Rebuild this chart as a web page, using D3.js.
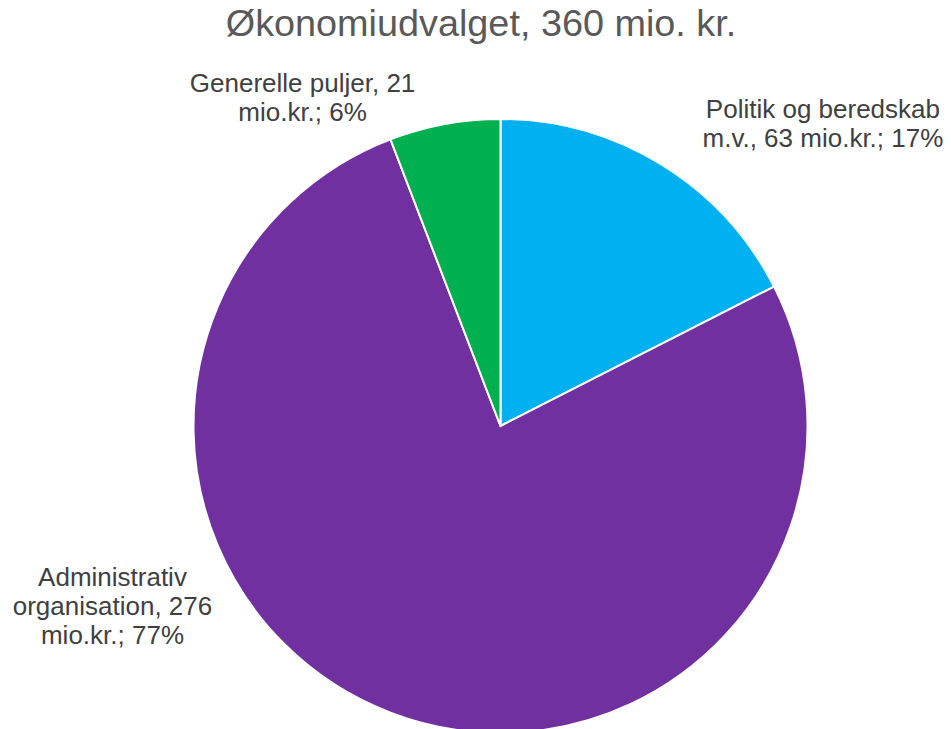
<!DOCTYPE html>
<html>
<head>
<meta charset="utf-8">
<script src="https://cdn.jsdelivr.net/npm/d3@7"></script>
<style>
  body { margin: 0; background: #fff; }
  svg { display: block; font-family: "Liberation Sans", Arial, sans-serif; }
</style>
</head>
<body>
<div id="chart"></div>
<script>
'use strict';

const categories = ['Politik og beredskab m.v.', 'Administrativ organisation', 'Generelle puljer'];
const values = [63, 276, 21];
const percents = [17, 77, 6];
const labelLines = [
    ['Politik og beredskab', 'm.v., 63 mio.kr.; 17%'],
    ['Administrativ', 'organisation, 276', 'mio.kr.; 77%'],
    ['Generelle puljer, 21', 'mio.kr.; 6%']
];
const colors = ['#00B0F0', '#7030A0', '#00B050'];
const titleText = 'Økonomiudvalget, 360 mio. kr.';

// label nudges relative to the slice's mid point on the rim
const labelOffsets = [[162, -46], [-278, -127], [-142, -32]];

const width = 951, height = 729;
const cx = 500.5, cy = 426, radius = 307;

const svg = d3.select('#chart')
    .append('svg')
    .attr('width', width)
    .attr('height', height);

svg.append('text')
    .attr('x', 481)
    .attr('y', 36)
    .attr('text-anchor', 'middle')
    .style('font-size', '37.8px')
    .style('fill', '#595959')
    .text(titleText);

const pie = d3.pie().sort(null).value(d => d);
const arcs = pie(values);

const arc = d3.arc().innerRadius(0).outerRadius(radius);
const rimArc = d3.arc().innerRadius(radius).outerRadius(radius);

const g = svg.append('g').attr('transform', `translate(${cx},${cy})`);

g.selectAll('.slice')
    .data(arcs)
    .enter()
    .append('path')
    .attr('class', 'slice')
    .attr('d', arc)
    .style('fill', (d, i) => colors[i])
    .style('stroke', '#fff')
    .style('stroke-width', 2);

const labels = g.selectAll('.label')
    .data(arcs)
    .enter()
    .append('text')
    .attr('class', 'label')
    .attr('text-anchor', 'middle')
    .style('font-size', '26px')
    .style('fill', '#404040')
    .attr('transform', (d, i) => {
        const [x, y] = rimArc.centroid(d);
        return `translate(${x + labelOffsets[i][0]},${y + labelOffsets[i][1]})`;
    });

labels.selectAll('tspan')
    .data((d, i) => labelLines[i])
    .enter()
    .append('tspan')
    .attr('x', 0)
    .attr('dy', (d, j) => j === 0 ? 0 : 29)
    .text(d => d);
</script>
</body>
</html>
